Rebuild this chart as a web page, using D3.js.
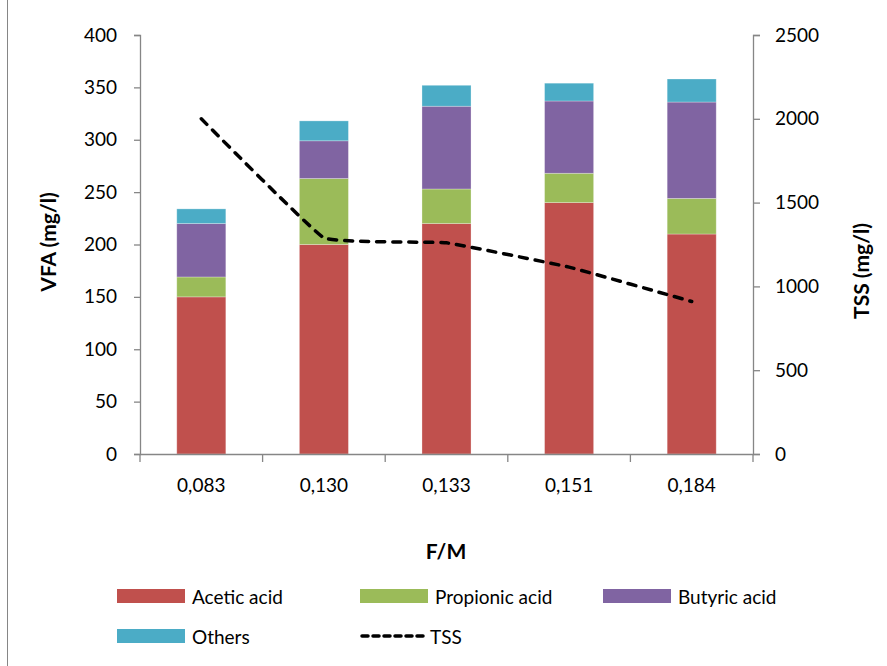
<!DOCTYPE html>
<html>
<head>
<meta charset="utf-8">
<script src="https://cdn.jsdelivr.net/npm/d3@7/dist/d3.min.js"></script>
<style>
  html, body { margin: 0; padding: 0; background: #fff; }
  svg { display: block; font-family: Lato, "Open Sans", sans-serif; }
</style>
</head>
<body>
<svg id="chart" width="887" height="666"></svg>
<script>
// F/M ratios on the category axis
const categories = ["0,083", "0,130", "0,133", "0,151", "0,184"];

// VFA composition (mg/l), stacked bottom to top
const acetic    = [150, 200, 220, 240, 210];
const propionic = [19, 63, 33, 28, 34];
const butyric   = [51, 36, 79, 69, 92];
const others    = [14, 19, 20, 17, 22];

// Total suspended solids (mg/l), right axis
const tss = [2000, 1290, 1260, 1115, 910];

const seriesNames  = ["Acetic acid", "Propionic acid", "Butyric acid", "Others"];
const seriesValues = [acetic, propionic, butyric, others];
const seriesColors = ["#C0504D", "#9BBB59", "#8064A2", "#4BACC6"];

const leftTicks  = [0, 50, 100, 150, 200, 250, 300, 350, 400];
const rightTicks = [0, 500, 1000, 1500, 2000, 2500];

const svg = d3.select("#chart");
const axisColor = "#868686";

// outer chart frame
svg.append("rect")
  .attr("x", 7.5).attr("y", -5).attr("width", 1000).attr("height", 1000)
  .attr("fill", "none").attr("stroke", axisColor).attr("stroke-width", 1);

const plot = { left: 140, right: 753, top: 35, bottom: 454 };

const x = d3.scaleBand()
  .domain(categories)
  .range([plot.left, plot.right])
  .paddingInner(0.6)
  .paddingOuter(0.3);

const yL = d3.scaleLinear().domain([0, 400]).range([plot.bottom, plot.top]);
const yR = d3.scaleLinear().domain([0, 2500]).range([plot.bottom, plot.top]);

// stacked bars
const rows = categories.map((c, i) => {
  const r = { cat: c };
  seriesNames.forEach((n, k) => r[n] = seriesValues[k][i]);
  return r;
});
const stack = d3.stack().keys(seriesNames)(rows);

svg.append("g").selectAll("g")
  .data(stack)
  .join("g")
  .attr("fill", (d, k) => seriesColors[k])
  .selectAll("rect")
  .data(d => d)
  .join("rect")
  .attr("x", d => x(d.data.cat))
  .attr("width", x.bandwidth())
  .attr("y", d => yL(d[1]))
  .attr("height", d => yL(d[0]) - yL(d[1]))
  .attr("stroke", "rgba(255,255,255,0.35)")
  .attr("stroke-width", 0.8);

// axes
function styleAxis(g) {
  g.selectAll("path, line").attr("stroke", axisColor).attr("stroke-width", 1.3);
  g.selectAll("text").attr("fill", "#000").style("font-size", "19px")
    .style("font-family", "Lato, 'Open Sans', sans-serif");
}

const axL = svg.append("g")
  .attr("transform", `translate(${plot.left},0)`)
  .call(d3.axisLeft(yL).tickValues(leftTicks).tickSize(6).tickPadding(17).tickSizeOuter(6));
styleAxis(axL);

const axR = svg.append("g")
  .attr("transform", `translate(${plot.right},0)`)
  .call(d3.axisRight(yR).tickValues(rightTicks).tickFormat(d3.format("d"))
    .tickSize(7).tickPadding(15).tickSizeOuter(7));
styleAxis(axR);

// category axis with ticks at the band boundaries
const axB = svg.append("g")
  .attr("transform", `translate(0,${plot.bottom})`)
  .call(d3.axisBottom(x).tickSize(0).tickPadding(25).tickSizeOuter(0));
styleAxis(axB);
const step = x.step();
const bounds = d3.range(categories.length + 1).map(i => plot.left + i * step);
axB.selectAll("line.sep")
  .data(bounds)
  .join("line")
  .attr("class", "sep")
  .attr("x1", d => d).attr("x2", d => d)
  .attr("y1", 0).attr("y2", 8)
  .attr("stroke", axisColor).attr("stroke-width", 1.3);

// TSS line
const line = d3.line()
  .x((d, i) => x(categories[i]) + x.bandwidth() / 2)
  .y(d => yR(d))
  .curve(d3.curveCardinal.tension(0.75));

svg.append("path")
  .datum(tss)
  .attr("d", line)
  .attr("fill", "none")
  .attr("stroke", "#000")
  .attr("stroke-width", 3.5)
  .attr("stroke-dasharray", "8,8")
  .attr("stroke-linecap", "round");

// axis titles
const titleStyle = t => t.attr("fill", "#000").style("font-size", "21px").style("font-weight", "bold")
  .attr("text-anchor", "middle").attr("dominant-baseline", "central");

svg.append("text").text("VFA (mg/l)")
  .attr("transform", "translate(47,242) rotate(-90)").call(titleStyle);
svg.append("text").text("TSS (mg/l)")
  .attr("transform", "translate(860,271) rotate(-90)").call(titleStyle);
svg.append("text").text("F/M")
  .attr("x", 446).attr("y", 550).call(titleStyle);

// legend
const legendItems = [
  { name: "Acetic acid",    color: seriesColors[0], x: 117, y: 596 },
  { name: "Propionic acid", color: seriesColors[1], x: 360, y: 596 },
  { name: "Butyric acid",   color: seriesColors[2], x: 603, y: 596 },
  { name: "Others",         color: seriesColors[3], x: 117, y: 636 },
  { name: "TSS",            color: null,            x: 360, y: 636 }
];
const lg = svg.append("g").selectAll("g")
  .data(legendItems)
  .join("g")
  .attr("transform", d => `translate(${d.x},${d.y})`);

lg.filter(d => d.color)
  .append("rect")
  .attr("x", 0).attr("y", -7).attr("width", 68).attr("height", 14)
  .attr("fill", d => d.color);

lg.filter(d => !d.color)
  .append("line")
  .attr("x1", 2).attr("x2", 66).attr("y1", 0).attr("y2", 0)
  .attr("stroke", "#000").attr("stroke-width", 3.5)
  .attr("stroke-dasharray", "6,5").attr("stroke-linecap", "round");

lg.append("text")
  .text(d => d.name)
  .attr("x", d => d.color ? 75 : 70)
  .attr("y", 0)
  .attr("dominant-baseline", "central")
  .attr("fill", "#000")
  .style("font-size", "19px");
</script>
</body>
</html>
